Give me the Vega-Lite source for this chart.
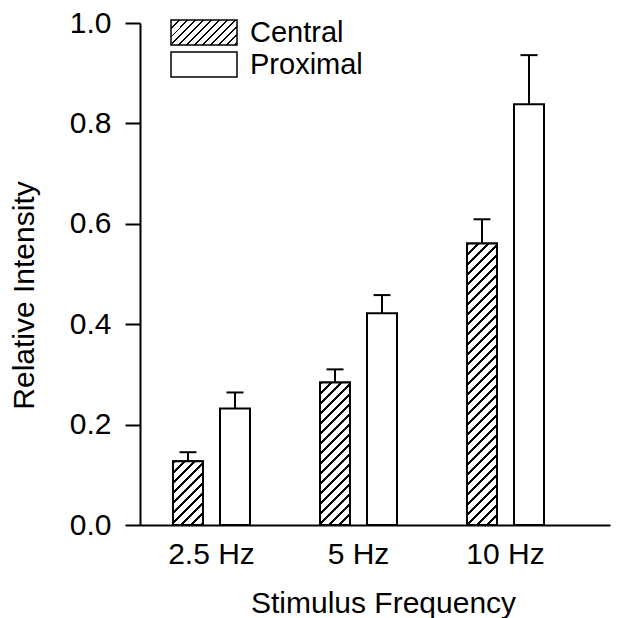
{
  "$schema": "https://vega.github.io/schema/vega-lite/v6.json",
  "autosize": {"type": "none"},
  "width": 470,
  "height": 502,
  "padding": {"left": 140, "top": 23, "right": 15, "bottom": 93},
  "config": {
    "font": "Liberation Sans",
    "view": {"stroke": null},
    "axis": {"labelColor": "black", "titleColor": "black", "domainColor": "black", "tickColor": "black", "titleFontWeight": "normal", "grid": false}
  },
  "data": {
    "values": [
      {"freq": "2.5 Hz", "series": "Central", "mean": 0.127, "upper": 0.145},
      {"freq": "2.5 Hz", "series": "Proximal", "mean": 0.232, "upper": 0.264},
      {"freq": "5 Hz", "series": "Central", "mean": 0.284, "upper": 0.310},
      {"freq": "5 Hz", "series": "Proximal", "mean": 0.422, "upper": 0.458},
      {"freq": "10 Hz", "series": "Central", "mean": 0.561, "upper": 0.609},
      {"freq": "10 Hz", "series": "Proximal", "mean": 0.838, "upper": 0.936}
    ]
  },
  "encoding": {
    "x": {
      "field": "freq", "type": "nominal", "title": "Stimulus Frequency",
      "scale": {"domain": ["2.5 Hz", "5 Hz", "10 Hz"], "paddingInner": 0.4762, "paddingOuter": 0.3367, "align": 0.3333},
      "axis": {"ticks": false, "tickSize": 0, "domainWidth": 2, "labelAngle": 0, "labelFontSize": 30, "labelPadding": 38, "labelBaseline": "alphabetic", "titleFontSize": 30, "titleX": 243, "titleY": 87, "titleBaseline": "alphabetic", "titleAlign": "center"}
    },
    "xOffset": {"field": "series", "type": "nominal", "scale": {"domain": ["Central", "Proximal"], "paddingInner": 0.3617, "paddingOuter": 0}},
    "y": {
      "field": "mean", "type": "quantitative", "title": "Relative Intensity",
      "scale": {"domain": [0, 1], "nice": false},
      "axis": {"values": [0, 0.2, 0.4, 0.6, 0.8, 1], "format": ".1f", "tickSize": 15, "tickWidth": 2, "domainWidth": 2, "labelFontSize": 30, "labelPadding": 14, "titleFontSize": 30, "titleX": -107, "titleY": 272, "titleAngle": 270, "titleBaseline": "alphabetic", "titleAlign": "center"}
    }
  },
  "layer": [
    {
      "mark": {"type": "bar", "stroke": "black", "strokeWidth": 2},
      "encoding": {
        "fill": {
          "field": "series", "type": "nominal",
          "scale": {"domain": ["Central", "Proximal"], "range": [
            {"expr": "{gradient: 'linear', x1: 0, y1: 0, x2: 1.272, y2: 0.4818, stops: [{offset: 0, color: 'black'}, {offset: 0.01667, color: 'black'}, {offset: 0.01667, color: 'white'}, {offset: 0.08333, color: 'white'}, {offset: 0.08333, color: 'black'}, {offset: 0.1, color: 'black'}, {offset: 0.1, color: 'white'}, {offset: 0.16667, color: 'white'}, {offset: 0.16667, color: 'black'}, {offset: 0.18333, color: 'black'}, {offset: 0.18333, color: 'white'}, {offset: 0.25, color: 'white'}, {offset: 0.25, color: 'black'}, {offset: 0.26667, color: 'black'}, {offset: 0.26667, color: 'white'}, {offset: 0.33333, color: 'white'}, {offset: 0.33333, color: 'black'}, {offset: 0.35, color: 'black'}, {offset: 0.35, color: 'white'}, {offset: 0.41667, color: 'white'}, {offset: 0.41667, color: 'black'}, {offset: 0.43333, color: 'black'}, {offset: 0.43333, color: 'white'}, {offset: 0.5, color: 'white'}, {offset: 0.5, color: 'black'}, {offset: 0.51667, color: 'black'}, {offset: 0.51667, color: 'white'}, {offset: 0.58333, color: 'white'}, {offset: 0.58333, color: 'black'}, {offset: 0.6, color: 'black'}, {offset: 0.6, color: 'white'}, {offset: 0.66667, color: 'white'}, {offset: 0.66667, color: 'black'}, {offset: 0.68333, color: 'black'}, {offset: 0.68333, color: 'white'}, {offset: 0.75, color: 'white'}, {offset: 0.75, color: 'black'}, {offset: 0.76667, color: 'black'}, {offset: 0.76667, color: 'white'}, {offset: 0.83333, color: 'white'}, {offset: 0.83333, color: 'black'}, {offset: 0.85, color: 'black'}, {offset: 0.85, color: 'white'}, {offset: 0.91667, color: 'white'}, {offset: 0.91667, color: 'black'}, {offset: 0.93333, color: 'black'}, {offset: 0.93333, color: 'white'}, {offset: 1, color: 'white'}]}"},
            "white"
          ]},
          "legend": {
            "title": null, "orient": "none", "legendX": 30, "legendY": -4, "padding": 0, "offset": 0,
            "symbolType": "M-1,-0.3788H1V0.3788H-1Z", "symbolSize": 4356, "symbolStrokeColor": "black", "symbolStrokeWidth": 1.5, "symbolOpacity": 1,
            "clipHeight": 27, "rowPadding": 2, "labelFontSize": 29, "labelColor": "black", "labelOffset": 12, "labelFont": "Liberation Sans"
          }
        }
      }
    },
    {
      "transform": [{"filter": "datum.series === 'Central' && datum.freq === '2.5 Hz'"}],
      "mark": {"type": "bar", "stroke": "black", "strokeWidth": 2, "fill": {"gradient": "linear", "x1": 0, "y1": 0, "x2": 1.9339, "y2": 4.1095, "stops": [
        {"offset": 0, "color": "black"}, {"offset": 0.009375, "color": "black"}, {"offset": 0.009375, "color": "white"}, {"offset": 0.03125, "color": "white"},
        {"offset": 0.03125, "color": "black"}, {"offset": 0.040625, "color": "black"}, {"offset": 0.040625, "color": "white"}, {"offset": 0.0625, "color": "white"},
        {"offset": 0.0625, "color": "black"}, {"offset": 0.071875, "color": "black"}, {"offset": 0.071875, "color": "white"}, {"offset": 0.09375, "color": "white"},
        {"offset": 0.09375, "color": "black"}, {"offset": 0.103125, "color": "black"}, {"offset": 0.103125, "color": "white"}, {"offset": 0.125, "color": "white"},
        {"offset": 0.125, "color": "black"}, {"offset": 0.134375, "color": "black"}, {"offset": 0.134375, "color": "white"}, {"offset": 0.15625, "color": "white"},
        {"offset": 0.15625, "color": "black"}, {"offset": 0.165625, "color": "black"}, {"offset": 0.165625, "color": "white"}, {"offset": 0.1875, "color": "white"},
        {"offset": 0.1875, "color": "black"}, {"offset": 0.196875, "color": "black"}, {"offset": 0.196875, "color": "white"}, {"offset": 0.21875, "color": "white"},
        {"offset": 0.21875, "color": "black"}, {"offset": 0.228125, "color": "black"}, {"offset": 0.228125, "color": "white"}, {"offset": 0.25, "color": "white"},
        {"offset": 0.25, "color": "black"}, {"offset": 0.259375, "color": "black"}, {"offset": 0.259375, "color": "white"}, {"offset": 0.28125, "color": "white"},
        {"offset": 0.28125, "color": "black"}, {"offset": 0.290625, "color": "black"}, {"offset": 0.290625, "color": "white"}, {"offset": 0.3125, "color": "white"}
      ]}}
    },
    {
      "transform": [{"filter": "datum.series === 'Central' && datum.freq === '5 Hz'"}],
      "mark": {"type": "bar", "stroke": "black", "strokeWidth": 2, "fill": {"gradient": "linear", "x1": 0, "y1": 0, "x2": 0.4521, "y2": 2.1489, "stops": [
        {"offset": 0, "color": "black"}, {"offset": 0.009375, "color": "black"}, {"offset": 0.009375, "color": "white"}, {"offset": 0.03125, "color": "white"},
        {"offset": 0.03125, "color": "black"}, {"offset": 0.040625, "color": "black"}, {"offset": 0.040625, "color": "white"}, {"offset": 0.0625, "color": "white"},
        {"offset": 0.0625, "color": "black"}, {"offset": 0.071875, "color": "black"}, {"offset": 0.071875, "color": "white"}, {"offset": 0.09375, "color": "white"},
        {"offset": 0.09375, "color": "black"}, {"offset": 0.103125, "color": "black"}, {"offset": 0.103125, "color": "white"}, {"offset": 0.125, "color": "white"},
        {"offset": 0.125, "color": "black"}, {"offset": 0.134375, "color": "black"}, {"offset": 0.134375, "color": "white"}, {"offset": 0.15625, "color": "white"},
        {"offset": 0.15625, "color": "black"}, {"offset": 0.165625, "color": "black"}, {"offset": 0.165625, "color": "white"}, {"offset": 0.1875, "color": "white"},
        {"offset": 0.1875, "color": "black"}, {"offset": 0.196875, "color": "black"}, {"offset": 0.196875, "color": "white"}, {"offset": 0.21875, "color": "white"},
        {"offset": 0.21875, "color": "black"}, {"offset": 0.228125, "color": "black"}, {"offset": 0.228125, "color": "white"}, {"offset": 0.25, "color": "white"},
        {"offset": 0.25, "color": "black"}, {"offset": 0.259375, "color": "black"}, {"offset": 0.259375, "color": "white"}, {"offset": 0.28125, "color": "white"},
        {"offset": 0.28125, "color": "black"}, {"offset": 0.290625, "color": "black"}, {"offset": 0.290625, "color": "white"}, {"offset": 0.3125, "color": "white"},
        {"offset": 0.3125, "color": "black"}, {"offset": 0.321875, "color": "black"}, {"offset": 0.321875, "color": "white"}, {"offset": 0.34375, "color": "white"},
        {"offset": 0.34375, "color": "black"}, {"offset": 0.353125, "color": "black"}, {"offset": 0.353125, "color": "white"}, {"offset": 0.375, "color": "white"},
        {"offset": 0.375, "color": "black"}, {"offset": 0.384375, "color": "black"}, {"offset": 0.384375, "color": "white"}, {"offset": 0.40625, "color": "white"},
        {"offset": 0.40625, "color": "black"}, {"offset": 0.415625, "color": "black"}, {"offset": 0.415625, "color": "white"}, {"offset": 0.4375, "color": "white"},
        {"offset": 0.4375, "color": "black"}, {"offset": 0.446875, "color": "black"}, {"offset": 0.446875, "color": "white"}, {"offset": 0.46875, "color": "white"},
        {"offset": 0.46875, "color": "black"}, {"offset": 0.478125, "color": "black"}, {"offset": 0.478125, "color": "white"}, {"offset": 0.5, "color": "white"},
        {"offset": 0.5, "color": "black"}, {"offset": 0.509375, "color": "black"}, {"offset": 0.509375, "color": "white"}, {"offset": 0.53125, "color": "white"},
        {"offset": 0.53125, "color": "black"}, {"offset": 0.540625, "color": "black"}, {"offset": 0.540625, "color": "white"}, {"offset": 0.5625, "color": "white"}
      ]}}
    },
    {
      "transform": [{"filter": "datum.series === 'Central' && datum.freq === '10 Hz'"}],
      "mark": {"type": "bar", "stroke": "black", "strokeWidth": 2, "fill": {"gradient": "linear", "x1": 0, "y1": 0, "x2": 0.1197, "y2": 1.1236, "stops": [
        {"offset": 0, "color": "black"}, {"offset": 0.009375, "color": "black"}, {"offset": 0.009375, "color": "white"}, {"offset": 0.03125, "color": "white"},
        {"offset": 0.03125, "color": "black"}, {"offset": 0.040625, "color": "black"}, {"offset": 0.040625, "color": "white"}, {"offset": 0.0625, "color": "white"},
        {"offset": 0.0625, "color": "black"}, {"offset": 0.071875, "color": "black"}, {"offset": 0.071875, "color": "white"}, {"offset": 0.09375, "color": "white"},
        {"offset": 0.09375, "color": "black"}, {"offset": 0.103125, "color": "black"}, {"offset": 0.103125, "color": "white"}, {"offset": 0.125, "color": "white"},
        {"offset": 0.125, "color": "black"}, {"offset": 0.134375, "color": "black"}, {"offset": 0.134375, "color": "white"}, {"offset": 0.15625, "color": "white"},
        {"offset": 0.15625, "color": "black"}, {"offset": 0.165625, "color": "black"}, {"offset": 0.165625, "color": "white"}, {"offset": 0.1875, "color": "white"},
        {"offset": 0.1875, "color": "black"}, {"offset": 0.196875, "color": "black"}, {"offset": 0.196875, "color": "white"}, {"offset": 0.21875, "color": "white"},
        {"offset": 0.21875, "color": "black"}, {"offset": 0.228125, "color": "black"}, {"offset": 0.228125, "color": "white"}, {"offset": 0.25, "color": "white"},
        {"offset": 0.25, "color": "black"}, {"offset": 0.259375, "color": "black"}, {"offset": 0.259375, "color": "white"}, {"offset": 0.28125, "color": "white"},
        {"offset": 0.28125, "color": "black"}, {"offset": 0.290625, "color": "black"}, {"offset": 0.290625, "color": "white"}, {"offset": 0.3125, "color": "white"},
        {"offset": 0.3125, "color": "black"}, {"offset": 0.321875, "color": "black"}, {"offset": 0.321875, "color": "white"}, {"offset": 0.34375, "color": "white"},
        {"offset": 0.34375, "color": "black"}, {"offset": 0.353125, "color": "black"}, {"offset": 0.353125, "color": "white"}, {"offset": 0.375, "color": "white"},
        {"offset": 0.375, "color": "black"}, {"offset": 0.384375, "color": "black"}, {"offset": 0.384375, "color": "white"}, {"offset": 0.40625, "color": "white"},
        {"offset": 0.40625, "color": "black"}, {"offset": 0.415625, "color": "black"}, {"offset": 0.415625, "color": "white"}, {"offset": 0.4375, "color": "white"},
        {"offset": 0.4375, "color": "black"}, {"offset": 0.446875, "color": "black"}, {"offset": 0.446875, "color": "white"}, {"offset": 0.46875, "color": "white"},
        {"offset": 0.46875, "color": "black"}, {"offset": 0.478125, "color": "black"}, {"offset": 0.478125, "color": "white"}, {"offset": 0.5, "color": "white"},
        {"offset": 0.5, "color": "black"}, {"offset": 0.509375, "color": "black"}, {"offset": 0.509375, "color": "white"}, {"offset": 0.53125, "color": "white"},
        {"offset": 0.53125, "color": "black"}, {"offset": 0.540625, "color": "black"}, {"offset": 0.540625, "color": "white"}, {"offset": 0.5625, "color": "white"},
        {"offset": 0.5625, "color": "black"}, {"offset": 0.571875, "color": "black"}, {"offset": 0.571875, "color": "white"}, {"offset": 0.59375, "color": "white"},
        {"offset": 0.59375, "color": "black"}, {"offset": 0.603125, "color": "black"}, {"offset": 0.603125, "color": "white"}, {"offset": 0.625, "color": "white"},
        {"offset": 0.625, "color": "black"}, {"offset": 0.634375, "color": "black"}, {"offset": 0.634375, "color": "white"}, {"offset": 0.65625, "color": "white"},
        {"offset": 0.65625, "color": "black"}, {"offset": 0.665625, "color": "black"}, {"offset": 0.665625, "color": "white"}, {"offset": 0.6875, "color": "white"},
        {"offset": 0.6875, "color": "black"}, {"offset": 0.696875, "color": "black"}, {"offset": 0.696875, "color": "white"}, {"offset": 0.71875, "color": "white"},
        {"offset": 0.71875, "color": "black"}, {"offset": 0.728125, "color": "black"}, {"offset": 0.728125, "color": "white"}, {"offset": 0.75, "color": "white"},
        {"offset": 0.75, "color": "black"}, {"offset": 0.759375, "color": "black"}, {"offset": 0.759375, "color": "white"}, {"offset": 0.78125, "color": "white"},
        {"offset": 0.78125, "color": "black"}, {"offset": 0.790625, "color": "black"}, {"offset": 0.790625, "color": "white"}, {"offset": 0.8125, "color": "white"},
        {"offset": 0.8125, "color": "black"}, {"offset": 0.821875, "color": "black"}, {"offset": 0.821875, "color": "white"}, {"offset": 0.84375, "color": "white"},
        {"offset": 0.84375, "color": "black"}, {"offset": 0.853125, "color": "black"}, {"offset": 0.853125, "color": "white"}, {"offset": 0.875, "color": "white"},
        {"offset": 0.875, "color": "black"}, {"offset": 0.884375, "color": "black"}, {"offset": 0.884375, "color": "white"}, {"offset": 0.90625, "color": "white"},
        {"offset": 0.90625, "color": "black"}, {"offset": 0.915625, "color": "black"}, {"offset": 0.915625, "color": "white"}, {"offset": 0.9375, "color": "white"},
        {"offset": 0.9375, "color": "black"}, {"offset": 0.946875, "color": "black"}, {"offset": 0.946875, "color": "white"}, {"offset": 0.96875, "color": "white"},
        {"offset": 0.96875, "color": "black"}, {"offset": 0.978125, "color": "black"}, {"offset": 0.978125, "color": "white"}, {"offset": 1, "color": "white"}
      ]}}
    },
    {
      "mark": {"type": "rule", "strokeWidth": 2, "color": "black"},
      "encoding": {"y2": {"field": "upper"}}
    },
    {
      "mark": {"type": "tick", "thickness": 2, "size": 17, "color": "black", "opacity": 1},
      "encoding": {"y": {"field": "upper", "type": "quantitative", "title": "Relative Intensity"}}
    }
  ]
}
